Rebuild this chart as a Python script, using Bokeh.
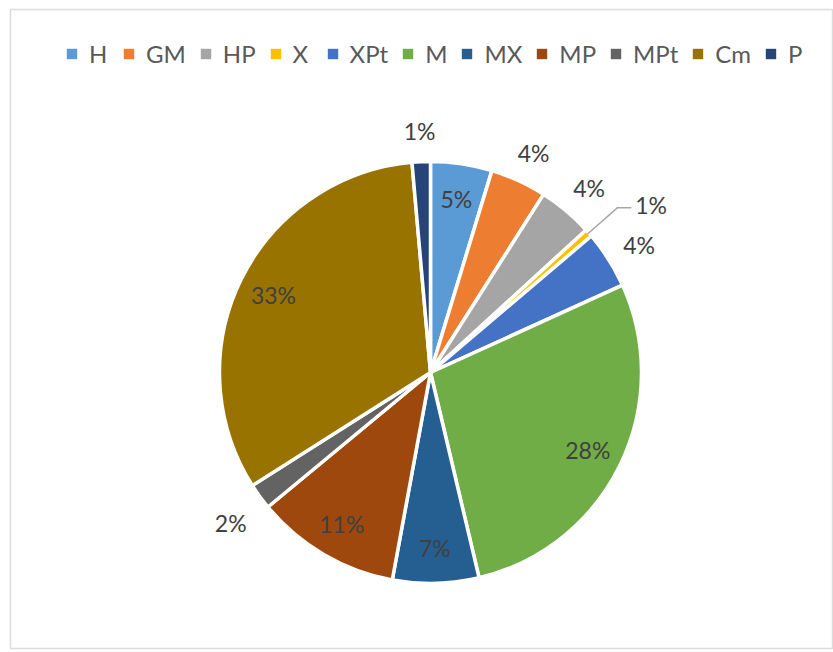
import numpy as np
from bokeh.plotting import figure
from bokeh.models import ColumnDataSource, Range1d, Legend, LegendItem
from bokeh.core.properties import value
from bokeh.embed import file_html
from bokeh.resources import INLINE

# ---- data ----
categories = ["H", "GM", "HP", "X", "XPt", "M", "MX", "MP", "MPt", "Cm", "P"]
shares = [4.7, 4.3, 4.2, 0.6, 4.4, 28.1, 6.6, 11.1, 2.0, 32.6, 1.4]
colors = ["#5B9BD5", "#ED7D31", "#A5A5A5", "#FFC000", "#4472C4", "#70AD47",
          "#255E91", "#9E480E", "#636363", "#997300", "#264478"]
# label placement style per slice: "in", "out", "leader"
label_mode = ["in", "out", "out", "leader", "out", "in", "in", "in", "out", "in", "out"]

# ---- layout constants ----
W, H = 833, 652
BL, BT, BR, BB = 10, 9, 0, 4
FW, FH = W - BL - BR, H - BT - BB
CX, CY = 420, 363          # pie centre in frame pixels (from left / top)
R = 211
FONT = "Lato"

vals = np.array(shares, dtype=float)
frac = vals / vals.sum()
cum_end = np.cumsum(frac)
cum_start = cum_end - frac
start_angle = np.pi / 2 - 2 * np.pi * cum_start
end_angle = np.pi / 2 - 2 * np.pi * cum_end
mid = 2 * np.pi * (cum_start + cum_end) / 2   # clockwise from 12 o'clock
pct = [f"{int(np.floor(f * 100 + 0.5))}%" for f in frac]

src = ColumnDataSource(dict(name=categories, color=colors,
                            start=start_angle, end=end_angle))

p = figure(width=W, height=H, output_backend="svg", toolbar_location=None,
           x_range=Range1d(-CX, FW - CX), y_range=Range1d(-(FH - CY), CY),
           min_border_left=BL, min_border_top=BT, min_border_right=BR,
           min_border_bottom=BB)
p.axis.visible = False
p.grid.visible = False
p.outline_line_color = "#dcdcdc"
p.outline_line_width = 1.5
p.background_fill_color = "white"
p.border_fill_color = "white"

wedges = p.wedge(x=0, y=0, radius=R, start_angle="start", end_angle="end",
                 direction="clock", fill_color="color", line_color="white",
                 line_width=3.5, source=src)
# borderless twin used only for the legend swatches
swatches = p.wedge(x=0, y=0, radius=0, start_angle="start", end_angle="end",
                   direction="clock", fill_color="color", line_color=None,
                   source=src)

# data labels
lx, ly, ltxt, lalign = [], [], [], []
for i, m in enumerate(label_mode):
    th = mid[i]
    if m == "in":
        r = 0.83 * R
        lx.append(r * np.sin(th)); ly.append(r * np.cos(th)); lalign.append("center")
    elif m == "out":
        r = R + 36
        lx.append(r * np.sin(th)); ly.append(r * np.cos(th) - 5); lalign.append("center")
    else:
        r0, r1 = R - 2, R + 38
        x0, y0 = r0 * np.sin(th), r0 * np.cos(th)
        x1, y1 = r1 * np.sin(th), r1 * np.cos(th)
        x2 = x1 + 14
        p.line([x0, x1, x2], [y0, y1, y1], line_color="#a6a6a6", line_width=1.5)
        lx.append(x2 + 4); ly.append(y1 + 3); lalign.append("left")
    ltxt.append(pct[i])

lab = ColumnDataSource(dict(x=lx, y=ly, t=ltxt, a=lalign))
p.text(x="x", y="y", text="t", source=lab, text_align="a",
       text_baseline="middle", text_font=value(FONT),
       text_font_size="23px", text_color="#404040")

items = [LegendItem(label=c, renderers=[swatches], index=i)
         for i, c in enumerate(categories)]
legend = Legend(items=items, orientation="horizontal", location=(55, 580),
                glyph_width=13, glyph_height=13, label_standoff=11, spacing=13,
                label_text_font=FONT, label_text_font_size="24px",
                label_text_color="#595959", border_line_color=None,
                background_fill_alpha=0, padding=0, margin=0)
p.add_layout(legend, "center")

open("out.html", "w").write(file_html(p, INLINE))
